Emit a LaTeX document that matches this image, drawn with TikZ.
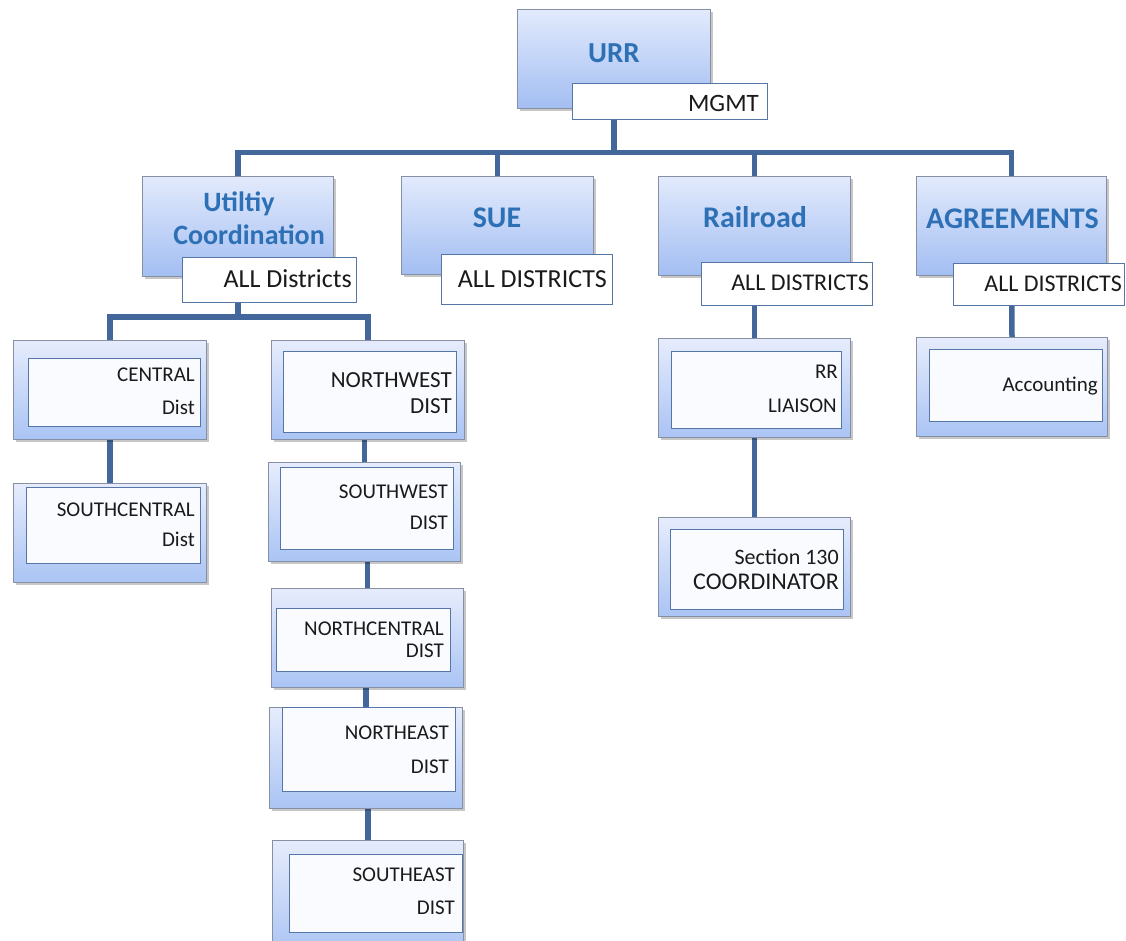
\documentclass[tikz,border=0pt]{standalone}
\usepackage{fontspec}
\setmainfont{Carlito}
\usetikzlibrary{shadows,backgrounds}
\definecolor{conncol}{HTML}{44679B}
\definecolor{topA}{HTML}{E2EAFC}
\definecolor{topB}{HTML}{A3BEF2}
\definecolor{subA}{HTML}{E6ECFC}
\definecolor{subB}{HTML}{AAC4F4}
\definecolor{boxedge}{HTML}{8590A4}
\definecolor{labedge}{HTML}{5676A8}
\definecolor{innerfill}{HTML}{FAFBFF}
\definecolor{titlecol}{HTML}{2E70B5}
\definecolor{txtcol}{HTML}{1A1A1A}
\tikzset{
  conn/.style={draw=conncol, line width=5.5pt, line join=miter},
  topbox/.style={rectangle, draw=boxedge, line width=1.2pt, top color=topA, bottom color=topB, inner sep=0pt,
    drop shadow={shadow xshift=2.5pt, shadow yshift=-2.5pt, fill=black, opacity=0.22}},
  subbox/.style={rectangle, draw=boxedge, line width=1.2pt, top color=subA, bottom color=subB, inner sep=0pt,
    drop shadow={shadow xshift=2.5pt, shadow yshift=-2.5pt, fill=black, opacity=0.22}},
  labbox/.style={rectangle, draw=labedge, line width=1.2pt, fill=white, inner sep=0pt},
  innerbox/.style={rectangle, draw=labedge, line width=1.2pt, fill=innerfill, inner sep=0pt},
  ttl/.style={inner sep=0pt, text=titlecol, anchor=base, font=\fontsize{#1}{#1}\selectfont\bfseries},
  txt/.style={inner sep=0pt, text=txtcol, anchor=base east, font=\fontsize{#1}{#1}\selectfont},
}
\newcommand\mkbox[6]{\node[#2, minimum width={#5-#3-1.2}, minimum height={#6-#4-1.2}] (#1) at ({(#3+#5)/2},{(#4+#6)/2}) {};}
\begin{document}
\begin{tikzpicture}[x=1pt,y=-1pt]
\clip (0,0) rectangle (1126,940);
\coordinate (bus) at (614,152.5);
\coordinate (ubus) at (239,317);
% top-level boxes
\mkbox{urr}{topbox}{517}{9}{711}{109}
\mkbox{util}{topbox}{142}{176}{334}{277}
\mkbox{sue}{topbox}{401}{176}{594}{275}
\mkbox{rail}{topbox}{658}{176}{851}{276}
\mkbox{agr}{topbox}{916}{176}{1107}{276}
% label boxes
\mkbox{mgmt}{labbox}{572}{83}{768}{120}
\mkbox{utilL}{labbox}{182}{257}{357}{303}
\mkbox{sueL}{labbox}{441}{254}{613}{305}
\mkbox{railL}{labbox}{701}{262}{873}{306}
\mkbox{agrL}{labbox}{953}{263}{1125}{306}
% sub boxes
\mkbox{central}{subbox}{13}{340}{207}{440}
\mkbox{sc}{subbox}{13}{483}{207}{583}
\mkbox{nw}{subbox}{271}{340}{465}{440}
\mkbox{sw}{subbox}{268}{462}{461}{562}
\mkbox{nc}{subbox}{271}{588}{464}{688}
\mkbox{ne}{subbox}{269}{707}{463}{809}
\mkbox{se}{subbox}{272}{840}{464}{955}
\mkbox{liaison}{subbox}{658}{338}{851}{438}
\mkbox{sec}{subbox}{658}{517}{851}{617}
\mkbox{acct}{subbox}{916}{337}{1108}{437}
% inner white boxes
\mkbox{centralI}{innerbox}{28}{358}{201}{427}
\mkbox{scI}{innerbox}{26}{487}{201}{564}
\mkbox{nwI}{innerbox}{283}{351}{457}{433}
\mkbox{swI}{innerbox}{280}{467}{454}{550}
\mkbox{ncI}{innerbox}{276}{608}{451}{672}
\mkbox{neI}{innerbox}{282}{707}{456}{792}
\mkbox{seI}{innerbox}{289}{854}{463}{933}
\mkbox{liaisonI}{innerbox}{671}{351}{842}{429}
\mkbox{secI}{innerbox}{670}{529}{844}{610}
\mkbox{acctI}{innerbox}{929}{349}{1103}{422}
% connectors behind boxes
\begin{pgfonlayer}{background}
\fill[white] (0,0) rectangle (1126,940);
\draw[conn] (urr.south) -- (urr.south |- bus);
\draw[conn] (util.north) -- (util.north |- bus) -- (agr.north |- bus) -- (agr.north);
\draw[conn] (sue.north |- bus) -- (sue.north);
\draw[conn] (rail.north |- bus) -- (rail.north);
\draw[conn] (util.south) -- (util.south |- ubus);
\draw[conn] (central.north) -- (central.north |- ubus) -- (nw.north |- ubus) -- (nw.north);
\draw[conn] (central.south) -- (sc.north);
\draw[conn] (sw.north |- nw.south) -- (sw.north);
\draw[conn] (nc.north |- sw.south) -- (nc.north);
\draw[conn] (ne.north |- nc.south) -- (ne.north);
\draw[conn] (se.north |- ne.south) -- (se.north);
\draw[conn] (rail.south) -- (liaison.north);
\draw[conn] (liaison.south) -- (sec.north);
\draw[conn] (agr.south) -- (acct.north);
\end{pgfonlayer}
% titles
\node[ttl=29] (urrT) at (614,62.3) {URR};
\node[ttl=28] (utilT1) at (239,211) {Utiltiy};
\node[ttl=28] (utilT2) at (249,244) {Coordination};
\node[ttl=30] (sueT) at (497,227.7) {SUE};
\node[ttl=30] (railT) at (755,227.7) {Railroad};
\node[ttl=30] (agrT) at (1012.5,228) {AGREEMENTS};
% label texts
\node[txt=25] (mgmtT) at (759,111) {MGMT};
\node[txt=26] (utilLT) at (352,287.4) {ALL Districts};
\node[txt=26] (sueLT) at (607,287.4) {ALL DISTRICTS};
\node[txt=24] (railLT) at (869,290.7) {ALL DISTRICTS};
\node[txt=24] (agrLT) at (1122,291.7) {ALL DISTRICTS};
% sub texts
\node[txt=21] (cT1) at (195,381.8) {CENTRAL};
\node[txt=21] (cT2) at (195,414.8) {Dist};
\node[txt=21] (scT1) at (195,516.8) {SOUTHCENTRAL};
\node[txt=21] (scT2) at (195,546.8) {Dist};
\node[txt=23] (nwT1) at (452,387.4) {NORTHWEST};
\node[txt=23] (nwT2) at (452,413.4) {DIST};
\node[txt=21] (swT1) at (448,498.8) {SOUTHWEST};
\node[txt=21] (swT2) at (448,529.8) {DIST};
\node[txt=21] (ncT1) at (444,635.8) {NORTHCENTRAL};
\node[txt=21] (ncT2) at (444,657.8) {DIST};
\node[txt=21] (neT1) at (449,739.8) {NORTHEAST};
\node[txt=21] (neT2) at (449,773.8) {DIST};
\node[txt=21] (seT1) at (455,881.8) {SOUTHEAST};
\node[txt=21] (seT2) at (455,914.8) {DIST};
\node[txt=21] (lT1) at (838,378.8) {RR};
\node[txt=21] (lT2) at (837,412.8) {LIAISON};
\node[txt=22] (secT1) at (839,564.8) {Section 130};
\node[txt=24] (secT2) at (839,589.5) {COORDINATOR};
\node[txt=21] (acT) at (1098,391.8) {Accounting};
\end{tikzpicture}
\end{document}
